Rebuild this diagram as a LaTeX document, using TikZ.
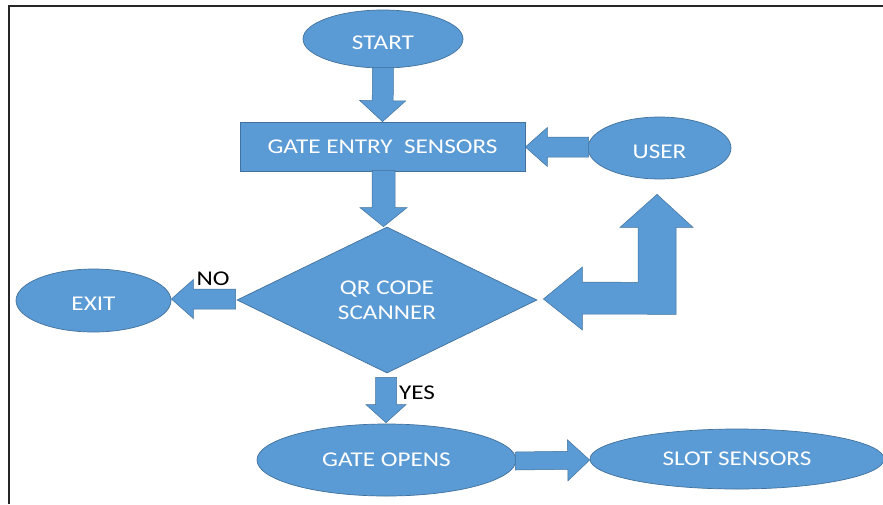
\documentclass[tikz,border=0pt]{standalone}
\usepackage{fontspec}
\setmainfont[FakeStretch=1.2]{Carlito}
\usetikzlibrary{shapes.geometric,calc}
\definecolor{boxblue}{HTML}{5B9BD5}
\definecolor{edgeblue}{HTML}{41719C}
\newcommand\blockarr[5]{%
  \coordinate (ba-h) at ($(#2)!#5!(#1)$);
  \filldraw[arrowshape] ($(#1)!#3!90:(#2)$) -- ($(ba-h)!#3!90:(#2)$) -- ($(ba-h)!#4!90:(#2)$) -- (#2)
    -- ($(ba-h)!#4!-90:(#2)$) -- ($(ba-h)!#3!-90:(#2)$) -- ($(#1)!#3!-90:(#2)$) -- cycle;}
\begin{document}
\begin{tikzpicture}[x=1pt,y=-1pt,
  shapebase/.style={fill=boxblue,draw=edgeblue,line width=0.7pt,text=white,inner sep=0pt,
    font=\fontsize{21}{25}\selectfont,align=center},
  oval/.style={shapebase,ellipse},
  proc/.style={shapebase,rectangle},
  decide/.style={shapebase,diamond},
  lowtext/.style={text height=20pt,text depth=0pt},
  arrowshape/.style={fill=boxblue,draw=edgeblue,line width=0.5pt,line join=miter},
  lbl/.style={text=black,font=\fontsize{21}{25}\selectfont,inner sep=0pt}]
\useasboundingbox (0,0) rectangle (883,504);
\fill[white] (0,0) rectangle (883,504);
% frame
\draw[line width=2pt,black!85] (9,504) -- (9,6) -- (883,6);
% nodes
\node[oval,lowtext,minimum width=160pt,minimum height=58pt] (start) at (383,39) {START};
\node[proc,minimum width=285pt,minimum height=49pt] (gate) at (382.5,146.5) {GATE ENTRY\ \ SENSORS};
\node[oval,lowtext,minimum width=143pt,minimum height=62pt] (user) at (659.5,148) {USER};
\node[decide,minimum width=300pt,minimum height=146pt] (qr) at (387,300) {QR CODE\\SCANNER};
\node[oval,lowtext,minimum width=155pt,minimum height=63pt] (exit) at (93.5,300.5) {EXIT};
\node[oval,minimum width=259pt,minimum height=72pt] (opens) at (386.5,460) {GATE OPENS};
\node[oval,minimum width=294pt,minimum height=60pt] (slot) at (737,459) {SLOT SENSORS};
% labels
\node[lbl] (no) at (213,279) {NO};
\node[lbl] (yes) at (417,393) {YES};
% block arrows
\coordinate (a1) at ($(start.south)+(0,-1)$);
\blockarr{a1}{gate.north}{10.5pt}{23pt}{21pt}
\coordinate (a2) at ($(gate.south)+(1,-1)$);
\coordinate (a2e) at (a2 |- qr.north);
\blockarr{a2}{a2e}{11.5pt}{23.5pt}{19pt}
\coordinate (a3) at ($(user.west)+(1,-1)$);
\coordinate (a3e) at ($(gate.east)+(0,0.5)$);
\blockarr{a3}{a3e}{10pt}{19.5pt}{22pt}
\coordinate (a4) at ($(qr.west)+(-1,-1)$);
\coordinate (a4e) at ($(exit.east)+(0,-1.5)$);
\blockarr{a4}{a4e}{10pt}{19.5pt}{22pt}
\coordinate (a5) at ($(qr.south)+(-1,4)$);
\coordinate (a5e) at ($(opens.north)+(-0.5,-1)$);
\blockarr{a5}{a5e}{10.5pt}{20pt}{18pt}
\coordinate (a6) at ($(opens.east)+(-1,1)$);
\coordinate (a6e) at ($(slot.west)+(0,1)$);
\blockarr{a6}{a6e}{9pt}{20.5pt}{22pt}
% bent arrow from scanner back to user
\coordinate (btip) at ($(qr.east)+(6,-1)$);
\coordinate (utip) at ($(user.south)+(-2.5,15)$);
\filldraw[arrowshape] (utip) -- ($(utip)+(36,33)$) -- ($(utip)+(19,33)$) -- ($(utip)+(19,120)$)
  -- ($(btip)+(39,15)$) -- ($(btip)+(39,31)$) -- (btip) -- ($(btip)+(39,-32)$) -- ($(btip)+(39,-17)$)
  -- ($(utip)+(-19,88)$) -- ($(utip)+(-19,33)$) -- ($(utip)+(-37,33)$) -- cycle;
\end{tikzpicture}
\end{document}
